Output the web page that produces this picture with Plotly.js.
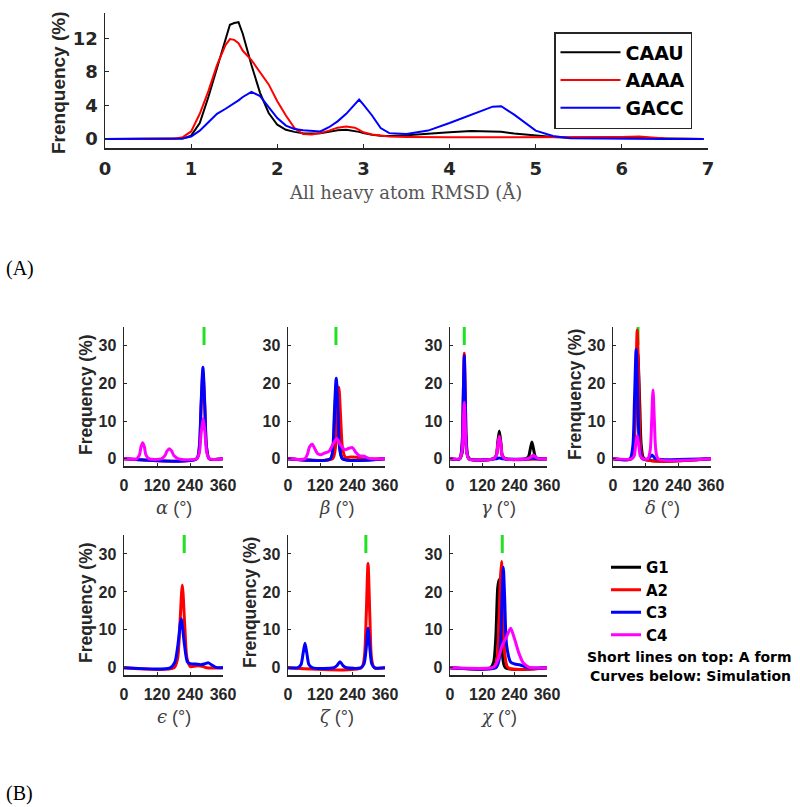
<!DOCTYPE html>
<html>
<head>
<meta charset="utf-8">
<script src="https://cdn.plot.ly/plotly-3.0.1.min.js"></script>
<style>body{margin:0;background:#fff}</style>
</head>
<body>
<div id="chart" style="width:800px;height:807px"></div>
<script>
// ---- panel A: all heavy atom RMSD distributions ----
const rmsdX = [0, 0.8, 0.9, 1.0, 1.1, 1.2, 1.3, 1.4, 1.45, 1.5, 1.55, 1.6, 1.7, 1.8, 1.9, 2.0, 2.1, 2.2, 2.3, 2.4, 2.5,
  2.6, 2.7, 2.8, 2.9, 2.95, 3.0, 3.1, 3.2, 3.3, 3.5, 3.75, 4.0, 4.25, 4.5, 4.6, 4.75, 5.0, 5.2, 5.4, 5.7, 6.0, 6.2, 6.5, 6.95];
const caau = [0, 0, 0.05, 0.4, 1.9, 5.0, 8.4, 12.0, 13.6, 13.8, 13.9, 12.5, 8.8, 5.5, 3.1, 1.7, 1.1, 0.85, 0.7, 0.65, 0.7,
  0.85, 1.05, 1.1, 0.95, 0.85, 0.7, 0.5, 0.4, 0.35, 0.45, 0.65, 0.8, 0.95, 0.9, 0.85, 0.65, 0.4, 0.25, 0.15, 0.2, 0.2, 0.15, 0.05, 0];
const aaaa = [0, 0, 0.2, 0.9, 3.0, 5.7, 8.8, 11.2, 11.9, 11.8, 11.4, 10.5, 9.4, 8.0, 6.5, 4.5, 2.8, 1.3, 0.6, 0.55, 0.7,
  1.0, 1.35, 1.5, 1.35, 1.1, 0.8, 0.55, 0.4, 0.3, 0.25, 0.2, 0.2, 0.2, 0.2, 0.2, 0.2, 0.2, 0.2, 0.2, 0.2, 0.25, 0.3, 0.05, 0];
const gacc = [0, 0, 0.05, 0.3, 1.0, 2.0, 3.0, 3.6, 3.9, 4.2, 4.6, 5.0, 5.6, 5.1, 3.8, 2.5, 1.6, 1.2, 1.05, 0.95, 0.9,
  1.4, 2.1, 3.0, 4.1, 4.7, 4.1, 2.8, 1.3, 0.7, 0.6, 1.0, 1.9, 2.9, 3.85, 3.9, 2.9, 1.0, 0.35, 0.1, 0.05, 0, 0, 0, 0];
const seqNames = ['CAAU', 'AAAA', 'GACC'];

// ---- panel B: backbone torsion distributions (deg, %) ----
const alphaA2x = [0, 264, 274, 280, 287, 294, 300, 310, 360];
const alphaA2y = [0, 0, 3, 13, 23, 13, 3, 0, 0];
const alphaC3x = [0, 264, 274, 280, 287, 294, 300, 310, 360];
const alphaC3y = [0, 0, 3.3, 14, 24.3, 14, 3.3, 0, 0];
const alphaC4x = [0, 45, 56, 62, 68, 74, 80, 92, 135, 148, 157, 165, 173, 182, 198, 264, 274, 280, 288, 295, 301, 311, 360];
const alphaC4y = [0, 0, 1, 3.2, 4.3, 3.2, 1, 0, 0, 0.8, 2.1, 2.7, 2.1, 0.8, 0, 0, 1.6, 6.5, 10.8, 6.5, 1.6, 0, 0];

const betaG1x = [0, 158, 168, 173, 180, 187, 192, 203, 360];
const betaG1y = [0, 0, 3, 11, 20, 11, 3, 0, 0];
const betaA2x = [0, 165, 176, 182, 189, 196, 202, 213, 235, 255, 275, 360];
const betaA2y = [0, 0, 3, 10, 19, 10, 3, 0.4, 0.5, 0.4, 0, 0];
const betaC3x = [0, 157, 167, 172, 179, 186, 191, 203, 360];
const betaC3y = [0, 0, 3.5, 12, 21.4, 12, 3.5, 0, 0];
const betaC4x = [0, 62, 72, 80, 90, 100, 110, 121, 135, 152, 168, 181, 195, 212, 226, 239, 252, 266, 282, 298, 312, 360];
const betaC4y = [0, 0, 1.2, 3.2, 3.9, 2.6, 1.4, 1.1, 1.5, 2.0, 4.0, 5.4, 3.7, 2.4, 2.8, 3.0, 1.7, 0.8, 0.7, 0.2, 0, 0];

const gammaG1x = [0, 36, 45, 49, 54, 59, 63, 72, 160, 172, 177, 183, 189, 194, 206, 280, 292, 298, 304, 310, 316, 328, 360];
const gammaG1y = [0, 0, 1.5, 5.5, 9.9, 5.5, 1.5, 0, 0, 1, 4.2, 7.4, 4.2, 1, 0, 0, 0.7, 2.6, 4.5, 2.6, 0.7, 0, 0];
const gammaA2x = [0, 36, 45, 49, 53, 57, 61, 70, 160, 172, 177, 183, 189, 194, 206, 360];
const gammaA2y = [0, 0, 4, 16, 28, 16, 4, 0, 0, 0.8, 3.4, 6, 3.4, 0.8, 0, 0];
const gammaC3x = [0, 36, 45, 49, 53, 57, 61, 70, 170, 183, 196, 290, 305, 320, 360];
const gammaC3y = [0, 0, 4, 15.5, 27.4, 15.5, 4, 0, 0, 0.25, 0, 0, 0.3, 0, 0];
const gammaC4x = [0, 36, 45, 49, 53, 57, 61, 70, 160, 172, 177, 183, 189, 194, 206, 288, 300, 309, 318, 330, 360];
const gammaC4y = [0, 0, 2.2, 8.5, 15, 8.5, 2.2, 0, 0, 0.8, 3.4, 6, 3.4, 0.8, 0, 0, 0.4, 1, 0.4, 0, 0];

const deltaG1x = [0, 66, 77, 83, 91, 98, 104, 115, 360];
const deltaG1y = [0, 0, 3.5, 15, 28, 15, 3.5, 0, 0];
const deltaA2x = [0, 66, 77, 83, 89, 95, 101, 112, 360];
const deltaA2y = [0, 0, 4, 19, 34.2, 19, 4, 0, 0];
const deltaC3x = [0, 62, 73, 79, 85, 91, 97, 108, 128, 136, 143, 150, 158, 360];
const deltaC3y = [0, 0, 3.5, 16, 29, 16, 3.5, 0, 0, 0.5, 1, 0.5, 0, 0];
const deltaC4x = [0, 68, 78, 83, 89, 95, 100, 110, 128, 137, 142, 147, 152, 157, 166, 360];
const deltaC4y = [0, 0, 0.8, 3.5, 6.2, 3.5, 0.8, 0, 0, 2.5, 10, 18.3, 10, 2.5, 0, 0];

const epsA2x = [0, 182, 195, 203, 212, 221, 229, 242, 262, 285, 300, 360];
const epsA2y = [0, 0, 2.5, 11, 21.8, 11, 2.5, 0.3, 0.5, 0.4, 0, 0];
const epsC3x = [0, 168, 185, 196, 208, 220, 231, 246, 260, 280, 295, 307, 320, 335, 360];
const epsC3y = [0, 0, 1.5, 6, 12.9, 6, 1.5, 1, 1, 0.8, 1.1, 1.3, 0.7, 0.1, 0];

const zetaA2x = [0, 272, 283, 290, 297, 304, 310, 320, 360];
const zetaA2y = [0, 0, 2.5, 13, 27.5, 13, 2.5, 0, 0];
const zetaC3x = [0, 35, 48, 56, 63, 70, 78, 92, 170, 182, 193, 204, 218, 270, 282, 290, 297, 304, 311, 322, 360];
const zetaC3y = [0, 0, 0.8, 3.8, 6.5, 3.8, 0.8, 0, 0, 0.6, 1.6, 0.6, 0, 0, 1, 5, 10.4, 5, 1, 0, 0];

const chiG1x = [0, 150, 162, 170, 177, 182, 188, 194, 206, 360];
const chiG1y = [0, 0, 1.5, 8, 21, 23.3, 15, 4, 0, 0];
const chiA2x = [0, 162, 174, 180, 186, 191, 197, 203, 216, 360];
const chiA2y = [0, 0, 2, 9, 22, 28, 16, 4, 0, 0];
const chiC3x = [0, 170, 182, 189, 194, 198, 203, 210, 225, 240, 258, 275, 290, 360];
const chiC3y = [0, 0, 2, 9, 20, 26.5, 18, 6, 1.5, 1, 0.8, 0.4, 0, 0];
const chiC4x = [0, 155, 168, 180, 194, 210, 225, 240, 255, 270, 285, 300, 360];
const chiC4y = [0, 0, 0.6, 2.5, 6, 8.2, 10.4, 7.5, 4, 1.5, 0.5, 0, 0];

// A-form reference angles (short green lines on top)
const aFormAngle = [291, 178, 53, 92, 219, 289, 194];
const aFormLevel = 33;

const torsionTitles = ['α', 'β', 'γ', 'δ', 'ϵ', 'ζ', 'χ'];
const resNames = ['G1', 'A2', 'C3', 'C4'];
const resColors = ['#000000', '#ff0000', '#0000ff', '#ff00ff'];

// curves per panel: [residue index, x, y]
const panels = [
  [[1, alphaA2x, alphaA2y], [2, alphaC3x, alphaC3y], [3, alphaC4x, alphaC4y]],
  [[0, betaG1x, betaG1y], [1, betaA2x, betaA2y], [2, betaC3x, betaC3y], [3, betaC4x, betaC4y]],
  [[0, gammaG1x, gammaG1y], [1, gammaA2x, gammaA2y], [2, gammaC3x, gammaC3y], [3, gammaC4x, gammaC4y]],
  [[0, deltaG1x, deltaG1y], [1, deltaA2x, deltaA2y], [2, deltaC3x, deltaC3y], [3, deltaC4x, deltaC4y]],
  [[1, epsA2x, epsA2y], [2, epsC3x, epsC3y]],
  [[1, zetaA2x, zetaA2y], [2, zetaC3x, zetaC3y]],
  [[0, chiG1x, chiG1y], [1, chiA2x, chiA2y], [2, chiC3x, chiC3y], [3, chiC4x, chiC4y]]
];

const W = 800, H = 807;
const px = (v) => v / W;
const py = (v) => (H - v) / H;

const axCol = '#262626';
const green = '#22e022';
const baseAxis = {
  showline: true, linecolor: axCol, linewidth: 1.5, ticks: 'inside', tickcolor: axCol, tickwidth: 1,
  showgrid: false, zeroline: false, fixedrange: true, tickangle: 0
};
const smallTick = {family: 'Liberation Sans', size: 16, color: axCol, weight: 'bold'};

const traces = [];
const topColors = ['#000000', '#ff0000', '#0000ff'];
[caau, aaaa, gacc].forEach((ys, i) => {
  traces.push({
    x: rmsdX, y: ys, type: 'scatter', mode: 'lines', name: seqNames[i],
    line: {color: topColors[i], width: 2}, xaxis: 'x', yaxis: 'y', legend: 'legend'
  });
});

// legend entries for residues (drawn once)
resNames.forEach((n, i) => {
  traces.push({
    x: [null], y: [null], type: 'scatter', mode: 'lines', name: n,
    line: {color: resColors[i], width: 3}, xaxis: 'x2', yaxis: 'y2', legend: 'legend2'
  });
});

panels.forEach((curves, p) => {
  const k = p + 2;
  // green A-form mark first, so the curves sit over it
  traces.push({
    x: [aFormAngle[p]], y: [aFormLevel], type: 'scatter', mode: 'markers', showlegend: false,
    marker: {symbol: 'line-ns-open', size: 15, color: green, line: {color: green, width: 3}},
    xaxis: 'x' + k, yaxis: 'y' + k
  });
  curves.forEach(([r, xs, ys]) => {
    traces.push({
      x: xs, y: ys, type: 'scatter', mode: 'lines', showlegend: false,
      line: {color: resColors[r], width: 3, shape: 'spline', smoothing: 0.7},
      xaxis: 'x' + k, yaxis: 'y' + k
    });
  });
});

const layout = {
  width: W, height: H, margin: {l: 0, r: 0, t: 0, b: 0},
  paper_bgcolor: '#fff', plot_bgcolor: 'rgba(0,0,0,0)',
  xaxis: Object.assign({}, baseAxis, {
    domain: [px(105), px(708)], range: [0, 7], tickvals: [0, 1, 2, 3, 4, 5, 6, 7], ticklen: 4,
    anchor: 'y', ticklabelstandoff: 4,
    tickfont: {family: 'DejaVu Sans', size: 18, color: axCol, weight: 'bold'}
  }),
  yaxis: Object.assign({}, baseAxis, {
    domain: [py(148), py(13)], range: [-1.07, 15], tickvals: [0, 4, 8, 12], ticklen: 4,
    anchor: 'x', ticklabelstandoff: 2,
    tickfont: {family: 'DejaVu Sans', size: 18, color: axCol, weight: 'bold'}
  }),
  legend: {
    x: px(554), y: py(32), xanchor: 'left', yanchor: 'top', bgcolor: '#fff',
    bordercolor: axCol, borderwidth: 1.5, itemwidth: 60,
    font: {family: 'DejaVu Sans', size: 19, color: '#000', weight: 'bold'}
  },
  legend2: {
    x: px(606), y: py(551), xanchor: 'left', yanchor: 'top', bgcolor: 'rgba(0,0,0,0)', borderwidth: 0,
    font: {family: 'DejaVu Sans', size: 15, color: '#000', weight: 'bold'}
  },
  annotations: [],
  showlegend: true
};

const colsPx = [[124, 223], [288, 385], [450, 547], [613, 711]];
const rowsPx = [[327, 466], [535, 675]];
panels.forEach((c, p) => {
  const k = p + 2;
  const colIdx = p < 4 ? p : p - 4;
  const row = p < 4 ? rowsPx[0] : rowsPx[1];
  const cp = colsPx[colIdx];
  layout['xaxis' + k] = Object.assign({}, baseAxis, {
    domain: [px(cp[0]), px(cp[1])], range: [0, 360], tickvals: [0, 120, 240, 360], ticklen: 3,
    anchor: 'y' + k, ticklabelstandoff: 4, tickfont: smallTick
  });
  layout['yaxis' + k] = Object.assign({}, baseAxis, {
    domain: [py(row[1]), py(row[0])], range: [-1.9, 35], tickvals: [0, 10, 20, 30], ticklen: 3,
    anchor: 'x' + k, ticklabelstandoff: 3, tickfont: smallTick
  });
  // x title
  layout.annotations.push({
    xref: 'paper', yref: 'paper', x: px((cp[0] + cp[1]) / 2), y: py(row[1] + 41),
    showarrow: false, xanchor: 'center', yanchor: 'middle',
    text: '<span style="font-family:DejaVu Serif"><i>' + torsionTitles[p] + '</i></span> (°)',
    font: {family: 'Liberation Sans', size: 18, color: '#404040'}
  });
});

// y titles of panel B
const yTitleB = [[0, 'Frequency (%)'], [3, 'Frenquency (%)'], [4, 'Frequency (%)'], [5, 'Frenquency (%)']];
yTitleB.forEach(([p, t]) => {
  const colIdx = p < 4 ? p : p - 4;
  const row = p < 4 ? rowsPx[0] : rowsPx[1];
  layout.annotations.push({
    xref: 'paper', yref: 'paper', x: px(colsPx[colIdx][0] - 38), y: py(row[0] + 68),
    showarrow: false, textangle: -90, xanchor: 'center', yanchor: 'middle', text: t,
    font: {family: 'Liberation Sans', size: 17.5, color: axCol, weight: 'bold'}
  });
});

layout.annotations.push(
  {xref: 'paper', yref: 'paper', x: px(406), y: py(192), showarrow: false, xanchor: 'center', yanchor: 'middle',
    text: 'All heavy atom RMSD (Å)', font: {family: 'DejaVu Serif', size: 18, color: '#555555'}},
  {xref: 'paper', yref: 'paper', x: px(59), y: py(83), showarrow: false, textangle: -90, xanchor: 'center', yanchor: 'middle',
    text: 'Frenquency (%)', font: {family: 'Liberation Sans', size: 19, color: axCol, weight: 'bold'}},
  {xref: 'paper', yref: 'paper', x: px(4), y: py(268), showarrow: false, xanchor: 'left', yanchor: 'middle',
    text: '(A)', font: {family: 'Liberation Serif', size: 20, color: '#000'}},
  {xref: 'paper', yref: 'paper', x: px(4), y: py(793), showarrow: false, xanchor: 'left', yanchor: 'middle',
    text: '(B)', font: {family: 'Liberation Serif', size: 20, color: '#000'}},
  {xref: 'paper', yref: 'paper', x: px(689), y: py(657), showarrow: false, xanchor: 'center', yanchor: 'middle',
    text: 'Short lines on top: A form', font: {family: 'DejaVu Sans', size: 14, color: '#000', weight: 'bold'}},
  {xref: 'paper', yref: 'paper', x: px(690), y: py(676), showarrow: false, xanchor: 'center', yanchor: 'middle',
    text: 'Curves below: Simulation', font: {family: 'DejaVu Sans', size: 14, color: '#000', weight: 'bold'}}
);

Plotly.newPlot('chart', traces, layout, {staticPlot: true});
</script>
</body>
</html>
